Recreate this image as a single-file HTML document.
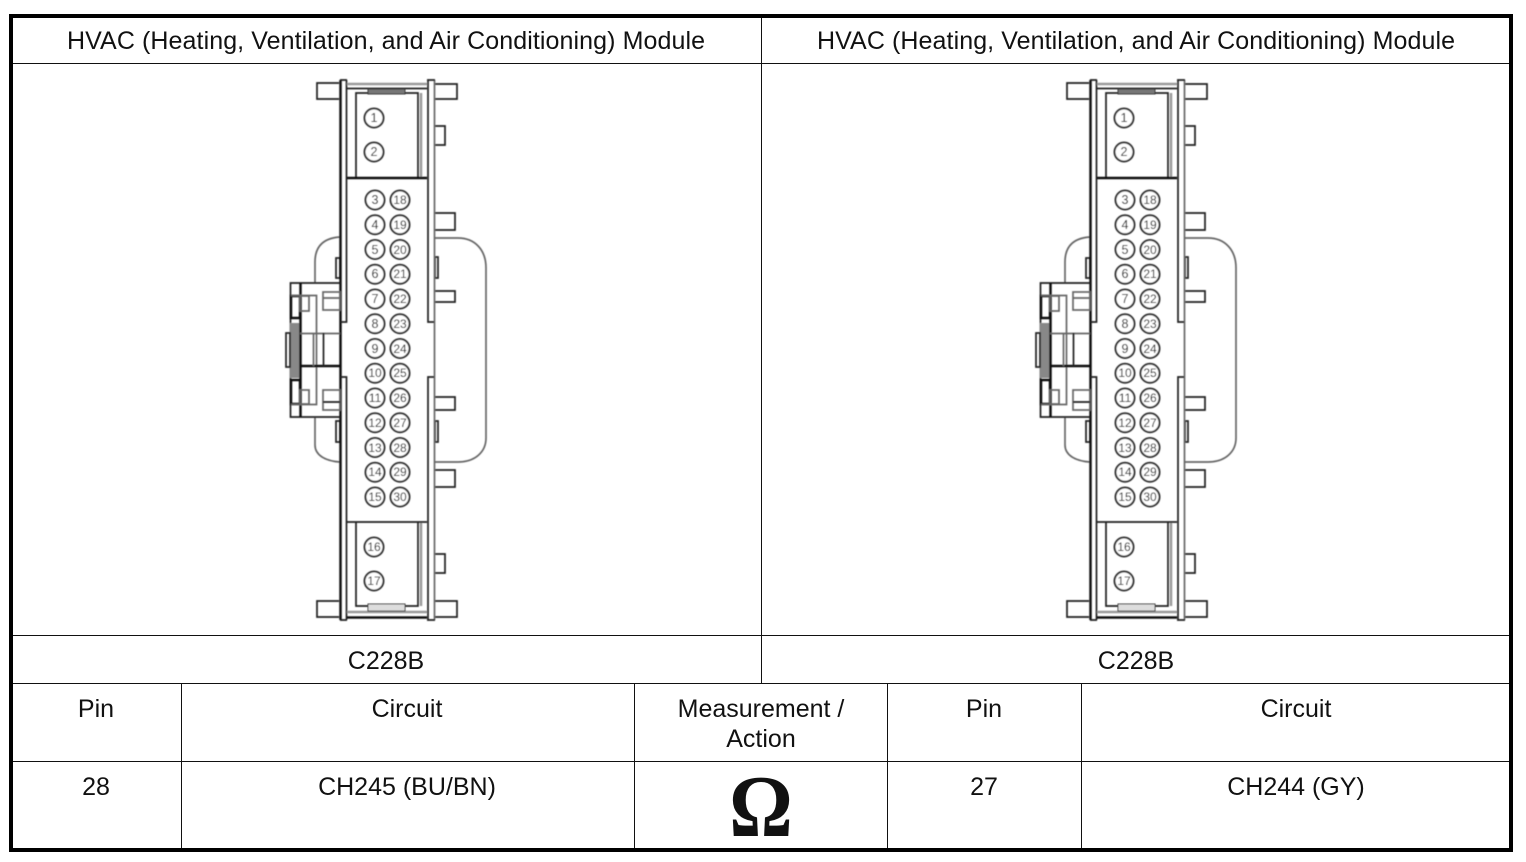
<!DOCTYPE html>
<html>
<head>
<meta charset="utf-8">
<style>
html,body{margin:0;padding:0;background:#fff;width:1526px;height:862px;overflow:hidden}
svg{display:block}
.t{font-family:"Liberation Sans",sans-serif;font-size:25px;fill:#111;text-anchor:middle}
.p{font-family:"Liberation Sans",sans-serif;font-size:12.500px;fill:#000;text-anchor:middle}
.q{font-family:"Liberation Sans",sans-serif;font-size:12px;fill:#000;text-anchor:middle}
.o{font-family:"Liberation Serif",serif;font-size:88px;font-weight:bold;fill:#111;text-anchor:middle}
.d{stroke:#222;stroke-width:1.7;fill:none}
.k{stroke:#111;stroke-width:2.500;fill:none}
.g{stroke:#666;stroke-width:1.700;fill:none}
.l{stroke:#999;stroke-width:2.500;fill:none}
.c{stroke:#333;stroke-width:2;fill:#fff}
</style>
</head>
<body>
<svg width="1526" height="862" viewBox="0 0 1526 862" xmlns="http://www.w3.org/2000/svg">
<defs>
<filter id="b" x="-5%" y="-5%" width="110%" height="110%"><feGaussianBlur stdDeviation="0.4"/></filter>
<g id="conn">
  <!-- handle -->
  <path class="g" d="M340 237C325 238 315 245 315 262V283M315 417V445C315 455 325 461 340 462"/>
  <path class="g" d="M435 238H458C475 238 486 250 486 268V438C486 452 475 462 458 462H435"/>
  <!-- tabs -->
  <path class="d" d="M339 83H317V99H339"/>
  <path class="d" d="M435 84H457V99H435"/>
  <path class="d" d="M435 126H445V145H435"/>
  <path class="d" d="M435 213H455V230H435"/>
  <path class="d" d="M435 291H455V302H435"/>
  <path class="d" d="M435 397H455V410H435"/>
  <path class="d" d="M435 470H455V487H435"/>
  <path class="d" d="M435 554H445V573H435"/>
  <path class="d" d="M339 601H317V617H339"/>
  <path class="d" d="M435 601H457V617H435"/>
  <!-- side bars -->
  <rect class="d" x="336" y="258" width="4" height="20"/>
  <rect class="d" x="336" y="421" width="4" height="21"/>
  <rect class="d" x="435" y="257" width="3" height="21"/>
  <rect class="d" x="435" y="421" width="3" height="21"/>
  <!-- flanges -->
  <path class="k" d="M340.500 80V620"/>
  <path class="d" d="M346.500 80V322H340.500M340.500 377H346.500V620"/>
  <path class="g" d="M434.500 80V620"/>
  <path class="d" d="M428 80V322H434M434 377H428V620"/>
  <path class="d" d="M340 80H347M427 80H435M340 620H347M427 620H435"/>
  <!-- top / bottom bands -->
  <path class="l" d="M347 84H427"/>
  <path class="d" d="M347 88.500H427"/>
  <path class="l" d="M347 612H427"/>
  <path class="k" d="M347 617.500H427"/>
  <!-- cavities -->
  <path class="d" d="M356 178V93H418V178"/>
  <path class="l" d="M421 93V178"/>
  <path class="k" d="M347 178H427"/>
  <path class="d" d="M356 522V606H418V522"/>
  <path class="l" d="M421 522V606"/>
  <path class="d" d="M347 522H427"/>
  <rect x="368" y="89" width="37" height="5" fill="#777" stroke="#333"/>
  <rect x="368" y="604" width="37" height="7" fill="#ddd" stroke="#333"/>
  <!-- left assembly -->
  <path class="d" d="M340 283H290.500V417H340"/>
  <rect x="290" y="323" width="11" height="55" fill="#888"/>
  <path class="k" d="M300.500 283V417"/>
  <rect class="d" x="286" y="333" width="4" height="34"/>
  <rect class="k" x="291" y="296" width="9" height="22"/>
  <rect class="g" x="300" y="296" width="9" height="15"/>
  <rect class="k" x="291" y="380" width="9" height="24"/>
  <rect class="g" x="300" y="390" width="9" height="14"/>
  <path class="g" d="M291 295.500H316.500V404.500H291"/>
  <rect class="g" x="323" y="292" width="17" height="18"/>
  <path class="g" d="M323 298H340"/>
  <rect class="g" x="323" y="390" width="17" height="20"/>
  <path class="d" d="M323 402H340"/>
  <path class="g" d="M300 333.500H340"/>
  <path class="k" d="M300 366H340"/>
  <path class="g" d="M313.500 333V366"/>
  <path class="d" d="M323.500 333V366"/>
  <!-- pin circles -->
  <circle class="c" cx="374" cy="118" r="9.500"/>
  <circle class="c" cx="374" cy="152" r="9.500"/>
  <circle class="c" cx="374" cy="547" r="9.500"/>
  <circle class="c" cx="374" cy="581" r="9.500"/>
  <circle class="c" cx="375" cy="200" r="9.500"/><circle class="c" cx="400" cy="200" r="9.500"/>
  <circle class="c" cx="375" cy="224.750" r="9.500"/><circle class="c" cx="400" cy="224.750" r="9.500"/>
  <circle class="c" cx="375" cy="249.500" r="9.500"/><circle class="c" cx="400" cy="249.500" r="9.500"/>
  <circle class="c" cx="375" cy="274.250" r="9.500"/><circle class="c" cx="400" cy="274.250" r="9.500"/>
  <circle class="c" cx="375" cy="299" r="9.500"/><circle class="c" cx="400" cy="299" r="9.500"/>
  <circle class="c" cx="375" cy="323.750" r="9.500"/><circle class="c" cx="400" cy="323.750" r="9.500"/>
  <circle class="c" cx="375" cy="348.500" r="9.500"/><circle class="c" cx="400" cy="348.500" r="9.500"/>
  <circle class="c" cx="375" cy="373.250" r="9.500"/><circle class="c" cx="400" cy="373.250" r="9.500"/>
  <circle class="c" cx="375" cy="398" r="9.500"/><circle class="c" cx="400" cy="398" r="9.500"/>
  <circle class="c" cx="375" cy="422.750" r="9.500"/><circle class="c" cx="400" cy="422.750" r="9.500"/>
  <circle class="c" cx="375" cy="447.500" r="9.500"/><circle class="c" cx="400" cy="447.500" r="9.500"/>
  <circle class="c" cx="375" cy="472.250" r="9.500"/><circle class="c" cx="400" cy="472.250" r="9.500"/>
  <circle class="c" cx="375" cy="497" r="9.500"/><circle class="c" cx="400" cy="497" r="9.500"/>
</g>
</defs>

<rect width="1526" height="862" fill="#fff"/>

<g filter="url(#b)">
<use href="#conn"/>
<use href="#conn" x="750"/>

<!-- pin labels, left connector -->
<g>
<text class="p" x="374" y="122">1</text><text class="p" x="374" y="156">2</text>
<text class="p" x="375" y="204">3</text><text class="q" x="400" y="204">18</text>
<text class="p" x="375" y="229">4</text><text class="q" x="400" y="229">19</text>
<text class="p" x="375" y="254">5</text><text class="q" x="400" y="254">20</text>
<text class="p" x="375" y="278">6</text><text class="q" x="400" y="278">21</text>
<text class="p" x="375" y="303">7</text><text class="q" x="400" y="303">22</text>
<text class="p" x="375" y="328">8</text><text class="q" x="400" y="328">23</text>
<text class="p" x="375" y="353">9</text><text class="q" x="400" y="353">24</text>
<text class="q" x="375" y="377">10</text><text class="q" x="400" y="377">25</text>
<text class="q" x="375" y="402">11</text><text class="q" x="400" y="402">26</text>
<text class="q" x="375" y="427">12</text><text class="q" x="400" y="427">27</text>
<text class="q" x="375" y="452">13</text><text class="q" x="400" y="452">28</text>
<text class="q" x="375" y="476">14</text><text class="q" x="400" y="476">29</text>
<text class="q" x="375" y="501">15</text><text class="q" x="400" y="501">30</text>
<text class="q" x="374" y="551">16</text><text class="q" x="374" y="585">17</text>
</g>

<!-- pin labels, right connector -->
<g transform="translate(750 0)">
<text class="p" x="374" y="122">1</text><text class="p" x="374" y="156">2</text>
<text class="p" x="375" y="204">3</text><text class="q" x="400" y="204">18</text>
<text class="p" x="375" y="229">4</text><text class="q" x="400" y="229">19</text>
<text class="p" x="375" y="254">5</text><text class="q" x="400" y="254">20</text>
<text class="p" x="375" y="278">6</text><text class="q" x="400" y="278">21</text>
<text class="p" x="375" y="303">7</text><text class="q" x="400" y="303">22</text>
<text class="p" x="375" y="328">8</text><text class="q" x="400" y="328">23</text>
<text class="p" x="375" y="353">9</text><text class="q" x="400" y="353">24</text>
<text class="q" x="375" y="377">10</text><text class="q" x="400" y="377">25</text>
<text class="q" x="375" y="402">11</text><text class="q" x="400" y="402">26</text>
<text class="q" x="375" y="427">12</text><text class="q" x="400" y="427">27</text>
<text class="q" x="375" y="452">13</text><text class="q" x="400" y="452">28</text>
<text class="q" x="375" y="476">14</text><text class="q" x="400" y="476">29</text>
<text class="q" x="375" y="501">15</text><text class="q" x="400" y="501">30</text>
<text class="q" x="374" y="551">16</text><text class="q" x="374" y="585">17</text>
</g>
</g>

<!-- table lines -->
<g stroke="#111" stroke-width="1" fill="none">
  <path d="M11 63.500H1511M11 635.500H1511M11 683.500H1511M11 761.500H1511"/>
  <path d="M761.500 16V683M181.500 683V850M634.500 683V850M887.500 683V850M1081.500 683V850"/>
</g>
<rect x="11" y="16" width="1500" height="834" fill="none" stroke="#000" stroke-width="4"/>

<!-- table text -->
<text class="t" x="386" y="49" textLength="638" lengthAdjust="spacing">HVAC (Heating, Ventilation, and Air Conditioning) Module</text>
<text class="t" x="1136" y="49" textLength="638" lengthAdjust="spacing">HVAC (Heating, Ventilation, and Air Conditioning) Module</text>
<text class="t" x="386" y="669">C228B</text>
<text class="t" x="1136" y="669">C228B</text>
<text class="t" x="96" y="717">Pin</text>
<text class="t" x="407" y="717">Circuit</text>
<text class="t" x="761" y="717">Measurement /</text>
<text class="t" x="761" y="747">Action</text>
<text class="t" x="984" y="717">Pin</text>
<text class="t" x="1296" y="717">Circuit</text>
<text class="t" x="96" y="795">28</text>
<text class="t" x="407" y="795">CH245 (BU/BN)</text>
<text class="t" x="984" y="795">27</text>
<text class="t" x="1296" y="795">CH244 (GY)</text>
<text class="o" transform="translate(761 836) scale(0.9 1)">Ω</text>
</svg>
</body>
</html>
